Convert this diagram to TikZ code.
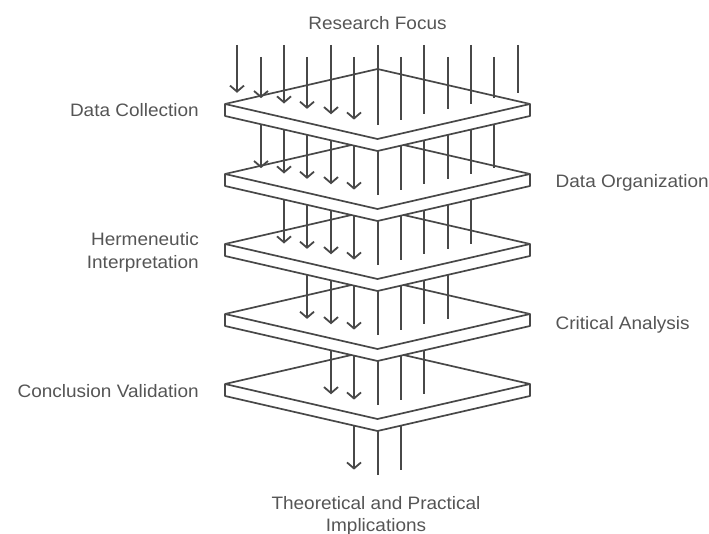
\documentclass[tikz,border=0pt]{standalone}
\usepackage{fontspec}
\setmainfont[FakeStretch=1.055]{Liberation Sans}
\usetikzlibrary{arrows.meta}
\definecolor{ink}{RGB}{72,72,72}
\definecolor{txt}{RGB}{85,85,85}
\tikzset{
  plate/.style={draw=ink, fill=white, line width=1.7pt, line join=round},
  pipe/.style={draw=ink, line width=1.8pt},
  flow/.style={pipe, -{Straight Barb[length=6pt,width=14pt]}},
  lbl/.style={text=txt, font=\fontsize{18}{22}\selectfont, inner sep=0pt},
}
\begin{document}
\begin{tikzpicture}[x=1pt,y=-1pt]
\useasboundingbox (0,0) rectangle (709,534);
\foreach \s in {5,4,3,2,1,0}{
  \pgfmathtruncatemacro{\nn}{6-\s}
  \pgfmathsetmacro{\Lnext}{104+70*\s}
  \foreach \k in {-\nn,...,\nn}{
    \pgfmathsetmacro{\xk}{round(377.5+23.4*\k)}
    \pgfmathsetmacro{\ye}{\Lnext+21-5.37*abs(\k)}
    \ifnum\s=0
      \pgfmathsetmacro{\ys}{mod(abs(\k),2)==0 ? 45 : 57}
    \else
      \pgfmathsetmacro{\ys}{104+70*(\s-1)}
    \fi
    \coordinate (p\s-\k-a) at (\xk,\ys);
    \coordinate (p\s-\k-b) at (\xk,\ye);
    \ifnum\k<0
      \draw[flow] (p\s-\k-a) -- (p\s-\k-b);
    \else
      \draw[pipe] (p\s-\k-a) -- (p\s-\k-b);
    \fi
  }
  \ifnum\s>0
    \pgfmathsetmacro{\L}{104+70*(\s-1)}
    \draw[plate] (225,\L) -- (377.5,{\L-35}) -- (530,\L) -- (530,{\L+12})
      -- (377.5,{\L+47}) -- (225,{\L+12}) -- cycle;
    \draw[plate] (225,\L) -- (377.5,{\L+35}) -- (530,\L);
  \fi
}
\node[lbl, anchor=base] (focus) at (377.5,29.3) {Research Focus};
\node[lbl, anchor=base east] (collect) at (199,116.7) {Data Collection};
\node[lbl, anchor=base west] (organize) at (555.5,187.3) {Data Organization};
\node[lbl, anchor=base east] (herm1) at (199,245.7) {Hermeneutic};
\node[lbl, anchor=base east] (herm2) at (199,268.3) {Interpretation};
\node[lbl, anchor=base west] (critical) at (555.5,329.3) {Critical Analysis};
\node[lbl, anchor=base east] (conclude) at (199,397.3) {Conclusion Validation};
\node[lbl, anchor=base] (impl1) at (376,509.3) {Theoretical and Practical};
\node[lbl, anchor=base] (impl2) at (376,531.7) {Implications};
\end{tikzpicture}
\end{document}
